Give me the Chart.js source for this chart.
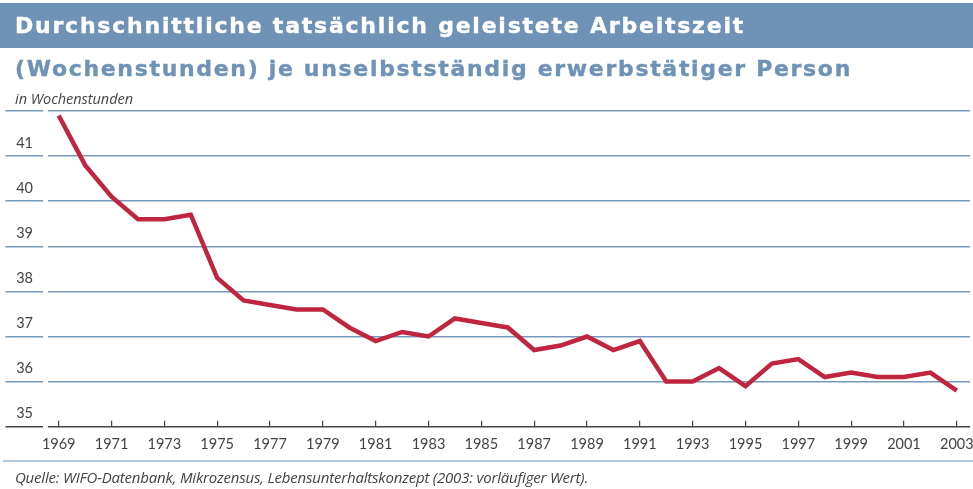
<!DOCTYPE html>
<html>
<head>
<meta charset="utf-8">
<script src="https://cdn.jsdelivr.net/npm/chart.js@4"></script>
<style>
body{margin:0;width:973px;height:489px;position:relative;overflow:hidden;background:#fff}
#chart{position:absolute;left:0;top:0}
#bar{position:absolute;left:0;top:3px;width:973px;height:45px;background:#6e93b6}
.t{position:absolute;left:15px;white-space:nowrap;z-index:2}
#title{top:13px;line-height:28px;font:bold 22px "DejaVu Sans",sans-serif;color:#fff;-webkit-text-stroke:0.4px #fff}
#subtitle{top:56px;line-height:28px;font:bold 22px "DejaVu Sans",sans-serif;color:#6e93b6;-webkit-text-stroke:0.4px #6e93b6}
#unit{top:89px;line-height:18px;font:italic 14.5px "Open Sans",sans-serif;color:#444}
#sep{position:absolute;left:3px;top:460px;width:970px;height:2px;background:#b3c7db}
#source{top:467px;line-height:20px;font:italic 15px "Open Sans",sans-serif;color:#444}
</style>
</head>
<body>
<div id="bar"></div>
<span class="t" id="title" data-w="730">Durchschnittliche tatsächlich geleistete Arbeitszeit</span>
<span class="t" id="subtitle" data-w="837">(Wochenstunden) je unselbstständig erwerbstätiger Person</span>
<span class="t" id="unit" data-w="118">in Wochenstunden</span>
<canvas id="chart" width="973" height="489"></canvas>
<div id="sep"></div>
<span class="t" id="source" data-w="573">Quelle: WIFO-Datenbank, Mikrozensus, Lebensunterhaltskonzept (2003: vorläufiger Wert).</span>
<script>
// data
const years = ["1969","1970","1971","1972","1973","1974","1975","1976","1977","1978",
  "1979","1980","1981","1982","1983","1984","1985","1986","1987","1988",
  "1989","1990","1991","1992","1993","1994","1995","1996","1997","1998",
  "1999","2000","2001","2002","2003"];

const hours = [41.9,40.8,40.1,39.6,39.6,39.7,38.3,37.8,37.7,37.6,
  37.6,37.2,36.9,37.1,37.0,37.4,37.3,37.2,36.7,36.8,
  37.0,36.7,36.9,36.0,36.0,36.3,35.9,36.4,36.5,36.1,
  36.2,36.1,36.1,36.2,35.8];

const yMin = 35, yMax = 42;

// stretch the headings to the width they have in the print
document.querySelectorAll('.t').forEach(el => {
  const w = el.getBoundingClientRect().width;
  const n = el.textContent.length;
  el.style.letterSpacing = ((+el.dataset.w - w) / n) + 'px';
});

const labelFont = {family: 'Lato', size: 14.5};

new Chart(document.getElementById('chart'), {
  type: 'line',
  data: {
    labels: years,
    datasets: [{
      data: hours,
      borderColor: '#c0253f',
      borderWidth: 4.5,
      pointRadius: 0,
      tension: 0
    }]
  },
  options: {
    responsive: false,
    animation: false,
    layout: {padding: {top: 111, left: 0, right: 3, bottom: 0}},
    plugins: {legend: {display: false}, tooltip: {enabled: false}},
    scales: {
      x: {
        offset: true,
        border: {display: false},
        grid: {
          offset: false,
          drawOnChartArea: false,
          tickLength: -6,
          lineWidth: 1.2,
          color: ctx => ctx.index % 2 === 0 ? '#444' : 'rgba(0,0,0,0)'
        },
        ticks: {
          autoSkip: false,
          maxRotation: 0,
          padding: 15,
          color: '#444',
          font: labelFont,
          callback: (v, i) => i % 2 === 0 ? years[i] : ''
        },
        afterFit: s => { s.height = 62.3; s.paddingLeft = 0; s.paddingRight = 0; }
      },
      y: {
        min: yMin,
        max: yMax,
        border: {color: '#fff', width: 5},
        grid: {
          tickLength: 40,
          lineWidth: 1.5,
          color: ctx => ctx.tick.value === yMin ? '#444' : '#7698bb'
        },
        ticks: {
          stepSize: 1,
          padding: -27.5,
          labelOffset: -13,
          color: '#444',
          font: labelFont,
          callback: v => v === yMax ? '' : v
        },
        afterFit: s => { s.width = 45.5; s.paddingTop = 0; s.paddingBottom = 0; }
      }
    }
  }
});
</script>
</body>
</html>
